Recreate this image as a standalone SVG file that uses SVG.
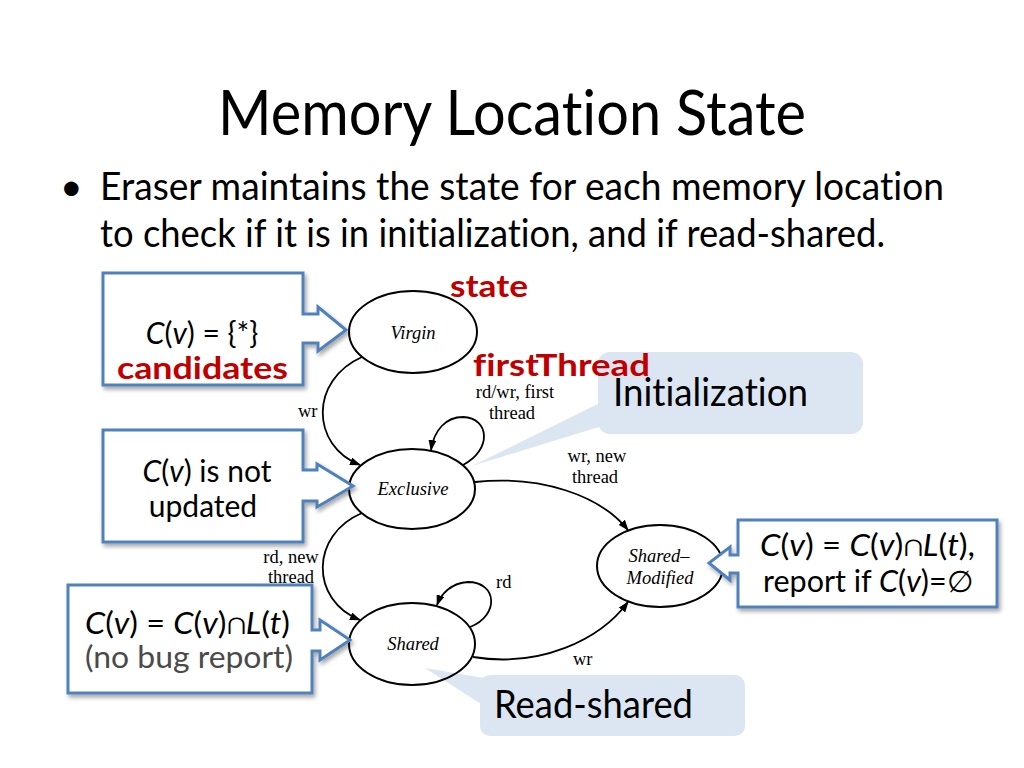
<svg xmlns="http://www.w3.org/2000/svg" width="1024" height="768" viewBox="0 0 1024 768">
<style>
.sans{font-family:Lato,"Open Sans","Liberation Sans",sans-serif;fill:#000;font-variant-ligatures:none;font-feature-settings:"liga" 0,"clig" 0}
.title{font-size:62px}
.body{font-size:39px}
.box{font-size:30px}
.red{fill:#C00000;font-weight:bold;font-size:31px}
.st{font-family:"Liberation Serif","Times New Roman",serif;font-style:italic;font-size:18.5px;fill:#000}
.lb{font-family:"Liberation Serif","Times New Roman",serif;font-size:18.5px;fill:#000}
.node{fill:none;stroke:#000;stroke-width:2}
.edge{fill:none;stroke:#000;stroke-width:1.8;marker-end:url(#ah)}
.call{fill:#fff;stroke:#4F81BD;stroke-width:3;filter:url(#sh)}
.bub{fill:#DCE6F2}
.gray{fill:#4a4a4a}
</style>
<defs>
<marker id="ah" markerWidth="11" markerHeight="8" refX="10" refY="4" orient="auto" markerUnits="userSpaceOnUse">
<path d="M0,0 L11,4 L0,8 z" fill="#000"/>
</marker>
<filter id="sh" x="-10%" y="-10%" width="130%" height="130%">
<feDropShadow dx="2" dy="3" stdDeviation="2" flood-color="#000" flood-opacity="0.35"/>
</filter>
</defs>
<rect width="1024" height="768" fill="#fff"/>

<g id="title">
<text class="sans title" x="218" y="135" textLength="588" lengthAdjust="spacingAndGlyphs">Memory Location State</text>
</g>
<g id="bullet">
<text class="sans body" x="60" y="200" font-size="34">•</text>
<text class="sans body" x="100" y="200" textLength="844" lengthAdjust="spacingAndGlyphs">Eraser maintains the state for each memory location</text>
<text class="sans body" x="100" y="247" textLength="785" lengthAdjust="spacingAndGlyphs">to check if it is in initialization, and if read-shared.</text>
</g>

<g id="callout-initialization">
<polygon class="bub" points="472,466 602,402 602,426"/>
<rect class="bub" x="598" y="352" width="265" height="82" rx="12"/>
<text class="sans body" x="613" y="406" textLength="195" lengthAdjust="spacingAndGlyphs">Initialization</text>
</g>
<g id="callout-readshared">
<polygon class="bub" points="425,668 484,678 484,706"/>
<rect class="bub" x="480" y="675" width="265" height="61" rx="10"/>
<text class="sans body" x="494" y="718" textLength="199" lengthAdjust="spacingAndGlyphs">Read-shared</text>
</g>

<g id="node-virgin">
<ellipse class="node" cx="413" cy="332" rx="64" ry="41"/>
<text class="st" x="413" y="339" text-anchor="middle">Virgin</text>
</g>
<g id="node-exclusive">
<ellipse class="node" cx="412" cy="489" rx="63" ry="40"/>
<text class="st" x="413" y="495" text-anchor="middle">Exclusive</text>
</g>
<g id="node-shared">
<ellipse class="node" cx="412" cy="644" rx="63" ry="41"/>
<text class="st" x="413" y="650" text-anchor="middle">Shared</text>
</g>
<g id="node-sharedmodified">
<ellipse class="node" cx="660" cy="566" rx="63" ry="41"/>
<text class="st" x="659" y="562" text-anchor="middle">Shared–</text>
<text class="st" x="660" y="584" text-anchor="middle">Modified</text>
</g>

<g id="connectors">
<path class="edge" d="M362,357 C310,380 310,445 360,465"/>
<path class="edge" d="M463,465 C492,450 490,418 463,417 C446,417 434,430 431,450"/>
<path class="edge" d="M362,513 C310,535 310,600 360,620"/>
<path class="edge" d="M470,627 C500,615 497,582 468,582 C451,583 441,594 437,605"/>
<path class="edge" d="M475,482 C540,475 600,495 628,530"/>
<path class="edge" d="M473,657 C540,668 600,640 628,602"/>
<text class="lb" x="298" y="417">wr</text>
<text class="lb" x="515" y="398" text-anchor="middle">rd/wr, first</text>
<text class="lb" x="512" y="419" text-anchor="middle">thread</text>
<text class="lb" x="597" y="462" text-anchor="middle">wr, new</text>
<text class="lb" x="595" y="483" text-anchor="middle">thread</text>
<text class="lb" x="291" y="563" text-anchor="middle">rd, new</text>
<text class="lb" x="291" y="583" text-anchor="middle">thread</text>
<text class="lb" x="496" y="588">rd</text>
<text class="lb" x="573" y="665">wr</text>
</g>

<g id="callout-candidates">
<path class="call" d="M103,273 H303 V314 H318 V307 L346,330 L318,351 V343 H303 V385 H103 Z"/>
<text class="sans box" x="202" y="344" text-anchor="middle"><tspan font-style="italic">C</tspan>(<tspan font-style="italic">v</tspan>) = {*}</text>
<text class="sans red" x="117" y="379" textLength="171" lengthAdjust="spacingAndGlyphs">candidates</text>
</g>
<g id="callout-exclusive">
<path class="call" d="M103,430 H303 V470 H317 V464 L353,486 L317,507 V501 H303 V542 H103 Z"/>
<text class="sans box" x="207" y="482" text-anchor="middle"><tspan font-style="italic">C</tspan>(<tspan font-style="italic">v</tspan>) is not</text>
<text class="sans box" x="203" y="517" text-anchor="middle">updated</text>
</g>
<g id="callout-shared">
<path class="call" d="M68,585 H312 V630 H320 V620 L350,640 L320,660 V651 H312 V693 H68 Z"/>
<text class="sans box" x="85" y="634" textLength="205" lengthAdjust="spacingAndGlyphs"><tspan font-style="italic">C</tspan>(<tspan font-style="italic">v</tspan>) = <tspan font-style="italic">C</tspan>(<tspan font-style="italic">v</tspan>)∩<tspan font-style="italic">L</tspan>(<tspan font-style="italic">t</tspan>)</text>
<text class="sans box gray" x="85" y="668" textLength="208" lengthAdjust="spacingAndGlyphs">(no bug report)</text>
</g>
<g id="callout-sharedmodified">
<path class="call" d="M738,520 H997 V607 H738 V573 H730 V580 L709,563 L730,547 V555 H738 Z"/>
<text class="sans box" x="760" y="556" textLength="215" lengthAdjust="spacingAndGlyphs"><tspan font-style="italic">C</tspan>(<tspan font-style="italic">v</tspan>) = <tspan font-style="italic">C</tspan>(<tspan font-style="italic">v</tspan>)∩<tspan font-style="italic">L</tspan>(<tspan font-style="italic">t</tspan>),</text>
<text class="sans box" x="763" y="592" textLength="210" lengthAdjust="spacingAndGlyphs">report if <tspan font-style="italic">C</tspan>(<tspan font-style="italic">v</tspan>)=∅</text>
</g>

<g id="labels-red">
<text class="sans red" x="450" y="297" textLength="78" lengthAdjust="spacingAndGlyphs">state</text>
<text class="sans red" x="473" y="376" textLength="177" lengthAdjust="spacingAndGlyphs">firstThread</text>
</g>
</svg>
